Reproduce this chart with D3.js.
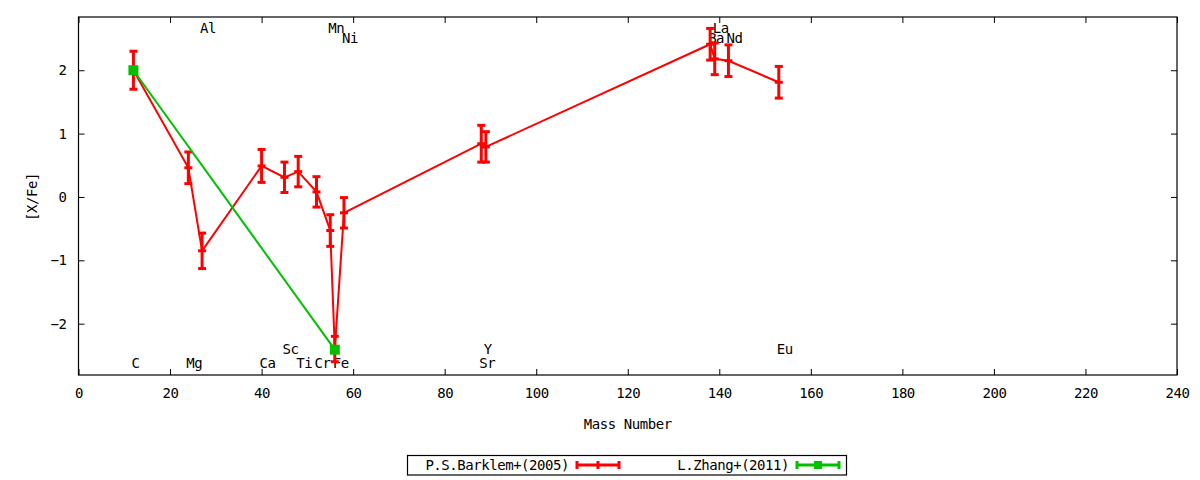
<!DOCTYPE html>
<html>
<head>
<meta charset="utf-8">
<script src="https://cdn.jsdelivr.net/npm/d3@7"></script>
<style>
  body { margin: 0; background: #fff; }
  svg text { font-family: "DejaVu Sans Mono", monospace; font-size: 14px; letter-spacing: -0.45px; fill: #000; }
</style>
</head>
<body>
<svg id="chart" width="1200" height="480"></svg>
<script>
// Barklem+(2005) abundances
const elements   = ["C", "Mg", "Al", "Ca", "Sc", "Ti", "Cr", "Mn", "Fe", "Ni", "Sr", "Y", "Ba", "La", "Nd", "Eu"];
const massNumber = [12, 24, 27, 40, 45, 48, 52, 55, 56, 58, 88, 89, 138, 139, 142, 153];
const barklem    = [2.00, 0.46, -0.85, 0.49, 0.31, 0.40, 0.08, -0.53, -2.40, -0.25, 0.84, 0.79, 2.41, 2.18, 2.15, 1.81];
const barklemErr = [0.30, 0.25, 0.28, 0.26, 0.24, 0.24, 0.24, 0.25, 0.20, 0.24, 0.29, 0.24, 0.25, 0.25, 0.25, 0.25];

// Zhang+(2011)
const zhangElements = ["C", "Fe"];
const zhangMass     = [12, 56];
const zhang         = [2.00, -2.41];

// element label rows (0,1 = top, 2,3 = bottom)
const labelRow = [3, 3, 0, 3, 2, 3, 3, 0, 3, 1, 3, 2, 1, 0, 1, 2];

const xTicks = d3.range(0, 241, 20);
const yTicks = [-2, -1, 0, 1, 2];

drawChart();

function drawChart() {
  let svg    = d3.select("#chart"),
      left   = 78.5,
      right  = 1177,
      top    = 17,
      bottom = 375,
      red    = "#ff0000",
      green  = "#00c000",
      x      = d3.scaleLinear().domain([0, 240]).range([left, right]),
      y      = d3.scaleLinear().domain([-2.81, 2.84]).range([bottom, top]),
      rowY   = [2.67, 2.51, -2.40, -2.62];

  // axes, ticks pointing inward, mirrored on top/right
  let gx = svg.append("g").attr("transform", `translate(0,${bottom})`)
    .call(d3.axisBottom(x).tickValues(xTicks).tickSize(-6).tickPadding(13));
  let gy = svg.append("g").attr("transform", `translate(${left},0)`)
    .call(d3.axisLeft(y).tickValues(yTicks).tickFormat(d3.format("d")).tickSize(-6).tickPadding(12));
  let gt = svg.append("g").attr("transform", `translate(0,${top})`)
    .call(d3.axisTop(x).tickValues(xTicks).tickSize(-6).tickFormat(""));
  let gr = svg.append("g").attr("transform", `translate(${right},0)`)
    .call(d3.axisRight(y).tickValues(yTicks).tickSize(-6).tickFormat(""));

  [gx, gy, gt, gr].forEach(g => {
    g.select(".domain").remove();
    g.selectAll("line").attr("stroke", "#000");
    g.selectAll("text").attr("font-family", null).attr("font-size", null);
  });

  svg.append("rect")
    .attr("x", left).attr("y", top)
    .attr("width", right - left).attr("height", bottom - top)
    .attr("fill", "none").attr("stroke", "#000").attr("stroke-width", 1.2);

  svg.append("text")
    .attr("x", (left + right) / 2).attr("y", 429)
    .attr("text-anchor", "middle")
    .text("Mass Number");

  svg.append("text")
    .attr("transform", `translate(37,${y(0)}) rotate(-90)`)
    .attr("text-anchor", "middle")
    .text("[X/Fe]");

  // element labels, left-justified at their mass number
  svg.append("g").selectAll("text")
    .data(elements)
    .join("text")
    .attr("x", (d, i) => x(massNumber[i]) - 2)
    .attr("y", (d, i) => y(rowY[labelRow[i]]))
    .attr("dy", "0.35em")
    .text(d => d);

  // Barklem: line + error bars
  let bData = elements.map((e, i) => ({ x: massNumber[i], y: barklem[i], e: barklemErr[i] }));

  svg.append("path")
    .datum(bData)
    .attr("fill", "none").attr("stroke", red).attr("stroke-width", 2)
    .attr("d", d3.line().x(d => x(d.x)).y(d => y(d.y)));

  let bars = svg.append("g").attr("stroke", red).attr("stroke-width", 3)
    .selectAll("g").data(bData).join("g");

  bars.append("line")
    .attr("x1", d => x(d.x)).attr("x2", d => x(d.x))
    .attr("y1", d => y(d.y + d.e)).attr("y2", d => y(d.y - d.e));
  bars.append("line")
    .attr("x1", d => x(d.x) - 4).attr("x2", d => x(d.x) + 4)
    .attr("y1", d => y(d.y + d.e)).attr("y2", d => y(d.y + d.e));
  bars.append("line")
    .attr("x1", d => x(d.x) - 4).attr("x2", d => x(d.x) + 4)
    .attr("y1", d => y(d.y - d.e)).attr("y2", d => y(d.y - d.e));
  bars.append("line")
    .attr("x1", d => x(d.x) - 4).attr("x2", d => x(d.x) + 4)
    .attr("y1", d => y(d.y)).attr("y2", d => y(d.y));

  // Zhang: line + square points
  let zData = zhangElements.map((e, i) => ({ x: zhangMass[i], y: zhang[i] }));

  svg.append("path")
    .datum(zData)
    .attr("fill", "none").attr("stroke", green).attr("stroke-width", 2)
    .attr("d", d3.line().x(d => x(d.x)).y(d => y(d.y)));

  svg.append("g").selectAll("rect")
    .data(zData)
    .join("rect")
    .attr("x", d => x(d.x) - 5).attr("y", d => y(d.y) - 5)
    .attr("width", 10).attr("height", 10)
    .attr("fill", green);

  // legend
  let legend = svg.append("g");
  legend.append("rect")
    .attr("x", 407.5).attr("y", 455.5).attr("width", 439).attr("height", 19.5)
    .attr("fill", "none").attr("stroke", "#000").attr("stroke-width", 1.2);

  let entries = [
    { label: "P.S.Barklem+(2005)", color: red, tx: 569, x0: 577, x1: 619, square: false },
    { label: "L.Zhang+(2011)", color: green, tx: 789, x0: 797, x1: 839, square: true }
  ];

  entries.forEach(en => {
    let cy = 465, cx = (en.x0 + en.x1) / 2;
    legend.append("text")
      .attr("x", en.tx).attr("y", cy).attr("dy", "0.35em")
      .attr("text-anchor", "end").text(en.label);
    let g = legend.append("g").attr("stroke", en.color).attr("stroke-width", 3);
    g.append("line").attr("x1", en.x0).attr("x2", en.x1).attr("y1", cy).attr("y2", cy);
    [en.x0, en.x1].concat(en.square ? [] : [cx]).forEach(px => {
      g.append("line").attr("x1", px).attr("x2", px).attr("y1", cy - 4).attr("y2", cy + 4);
    });
    if (en.square) {
      legend.append("rect")
        .attr("x", cx - 4).attr("y", cy - 4).attr("width", 8).attr("height", 8)
        .attr("fill", en.color);
    }
  });
}
</script>
</body>
</html>
